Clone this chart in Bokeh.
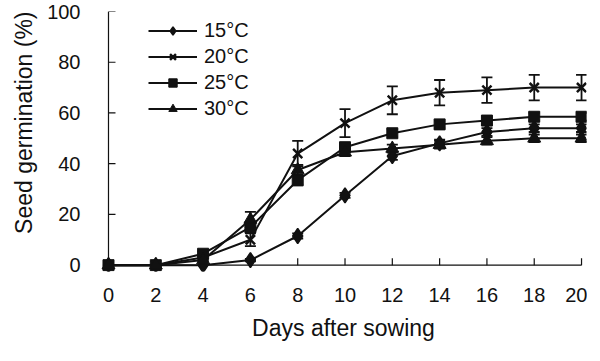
from bokeh.plotting import figure
from bokeh.models import ColumnDataSource, Whisker, TeeHead, Range1d, Legend, LegendItem, Title
from bokeh.embed import file_html
from bokeh.resources import INLINE

# ---- data ----
days = [0, 2, 4, 6, 8, 10, 12, 14, 16, 18, 20]
g15 = [0, 0, 0, 2, 11.5, 27.5, 43, 48, 52.5, 54, 54]
g20 = [0, 0, 3, 10, 44, 56, 65, 68, 69, 70, 70]
g25 = [0, 0, 4.5, 15, 33.5, 46.5, 52, 55.5, 57, 58.5, 58.5]
g30 = [0, 0, 2, 18, 37.5, 44.5, 46, 47.5, 49, 50, 50]
e15 = [0, 0, 0, 0.5, 1, 1, 1.5, 1.5, 1.5, 1.5, 1.5]
e20 = [0, 0, 1, 2.5, 5, 5.5, 5.5, 5, 5, 5, 5]
e25 = [0, 0, 1, 2, 2, 1.5, 1.5, 1.5, 1.5, 1.5, 1.5]
e30 = [0, 0, 0.5, 3, 2, 1.5, 1.5, 1.5, 1.5, 1.5, 1.5]
labels = ["15°C", "20°C", "25°C", "30°C"]
xticks = [0, 2, 4, 6, 8, 10, 12, 14, 16, 18, 20]
yticks = [0, 20, 40, 60, 80, 100]

FONT = "Liberation Sans"
INK = "#111111"

FW, FH = 486, 260
XR = (-0.338, 20.21)
YR = (-2.5, 100)

p = figure(frame_width=FW, frame_height=FH,
           x_range=Range1d(*XR), y_range=Range1d(*YR),
           output_backend="svg", toolbar_location=None,
           min_border_left=97, min_border_right=1, min_border_top=11, min_border_bottom=10)
p.outline_line_color = None
p.grid.visible = False

# axis lines and inward ticks drawn at data 0
px_x = FW / (XR[1] - XR[0])
px_y = FH / (YR[1] - YR[0])
tick_y = 7 / px_y
tick_x = 7 / px_x
p.segment(x0=[xticks[0]], y0=[yticks[0]], x1=[xticks[-1]], y1=[yticks[0]], line_color=INK, line_width=1.2)
p.segment(x0=[xticks[0]], y0=[yticks[0]], x1=[xticks[0]], y1=[yticks[-1]], line_color=INK, line_width=1.2)
p.segment(x0=xticks, y0=[0] * len(xticks), x1=xticks, y1=[tick_y] * len(xticks), line_color=INK, line_width=1.2)
p.segment(x0=[0] * len(yticks), y0=yticks, x1=[tick_x] * len(yticks), y1=yticks, line_color=INK, line_width=1.2)

for ax in (p.xaxis, p.yaxis):
    ax.axis_line_color = None
    ax.major_tick_line_color = None
    ax.minor_tick_line_color = None
    ax.major_tick_out = 0
    ax.major_tick_in = 0
    ax.minor_tick_out = 0
    ax.minor_tick_in = 0
    ax.major_label_text_font = FONT
    ax.major_label_text_font_size = "20px"
    ax.major_label_text_color = INK
    ax.axis_label_text_font = FONT
    ax.axis_label_text_font_size = "23px"
    ax.axis_label_text_font_style = "normal"
    ax.axis_label_text_color = INK

p.xaxis.ticker = xticks
p.yaxis.ticker = yticks
p.xaxis.axis_label = "Days after sowing"
p.xaxis.major_label_standoff = 16
p.xaxis.axis_label_standoff = 10
p.yaxis.major_label_standoff = 20

# y title as a side title aligned to the top end of the axis
ytitle = Title(text="Seed germination (%)", align="right", standoff=16,
               text_font=FONT, text_font_size="23px", text_font_style="normal",
               text_color=INK)
p.add_layout(ytitle, "left")

series = [
    (labels[0], g15, e15, "diamond", 15, 1.5),
    (labels[1], g20, e20, "x", 13, 2.5),
    (labels[2], g25, e25, "square", 11, 1),
    (labels[3], g30, e30, "triangle", 13, 1),
]

items = []
for name, vals, errs, marker, size, lw in series:
    bx = [d for d, e in zip(days, errs) if e > 0]
    up = [v + e for v, e in zip(vals, errs) if e > 0]
    lo = [v - e for v, e in zip(vals, errs) if e > 0]
    src = ColumnDataSource(dict(x=bx, upper=up, lower=lo))
    p.add_layout(Whisker(source=src, base="x", upper="upper", lower="lower",
                         line_color=INK, line_width=1.8,
                         upper_head=TeeHead(size=11, line_width=1.8, line_color=INK),
                         lower_head=TeeHead(size=11, line_width=1.8, line_color=INK)))
    lr = p.line(days, vals, line_color=INK, line_width=2)
    sr = p.scatter(days, vals, marker=marker, size=size, fill_color=INK,
                   line_color=INK, line_width=lw)
    items.append(LegendItem(label=name, renderers=[lr, sr]))

legend = Legend(items=items, location=(48, 151), margin=0, padding=0, spacing=3,
                glyph_width=49, glyph_height=21, label_height=21, label_standoff=7,
                label_text_font=FONT, label_text_font_size="20px", label_text_color=INK,
                border_line_color=None, background_fill_alpha=0)
p.add_layout(legend)

open("out.html", "w").write(file_html(p, INLINE))
